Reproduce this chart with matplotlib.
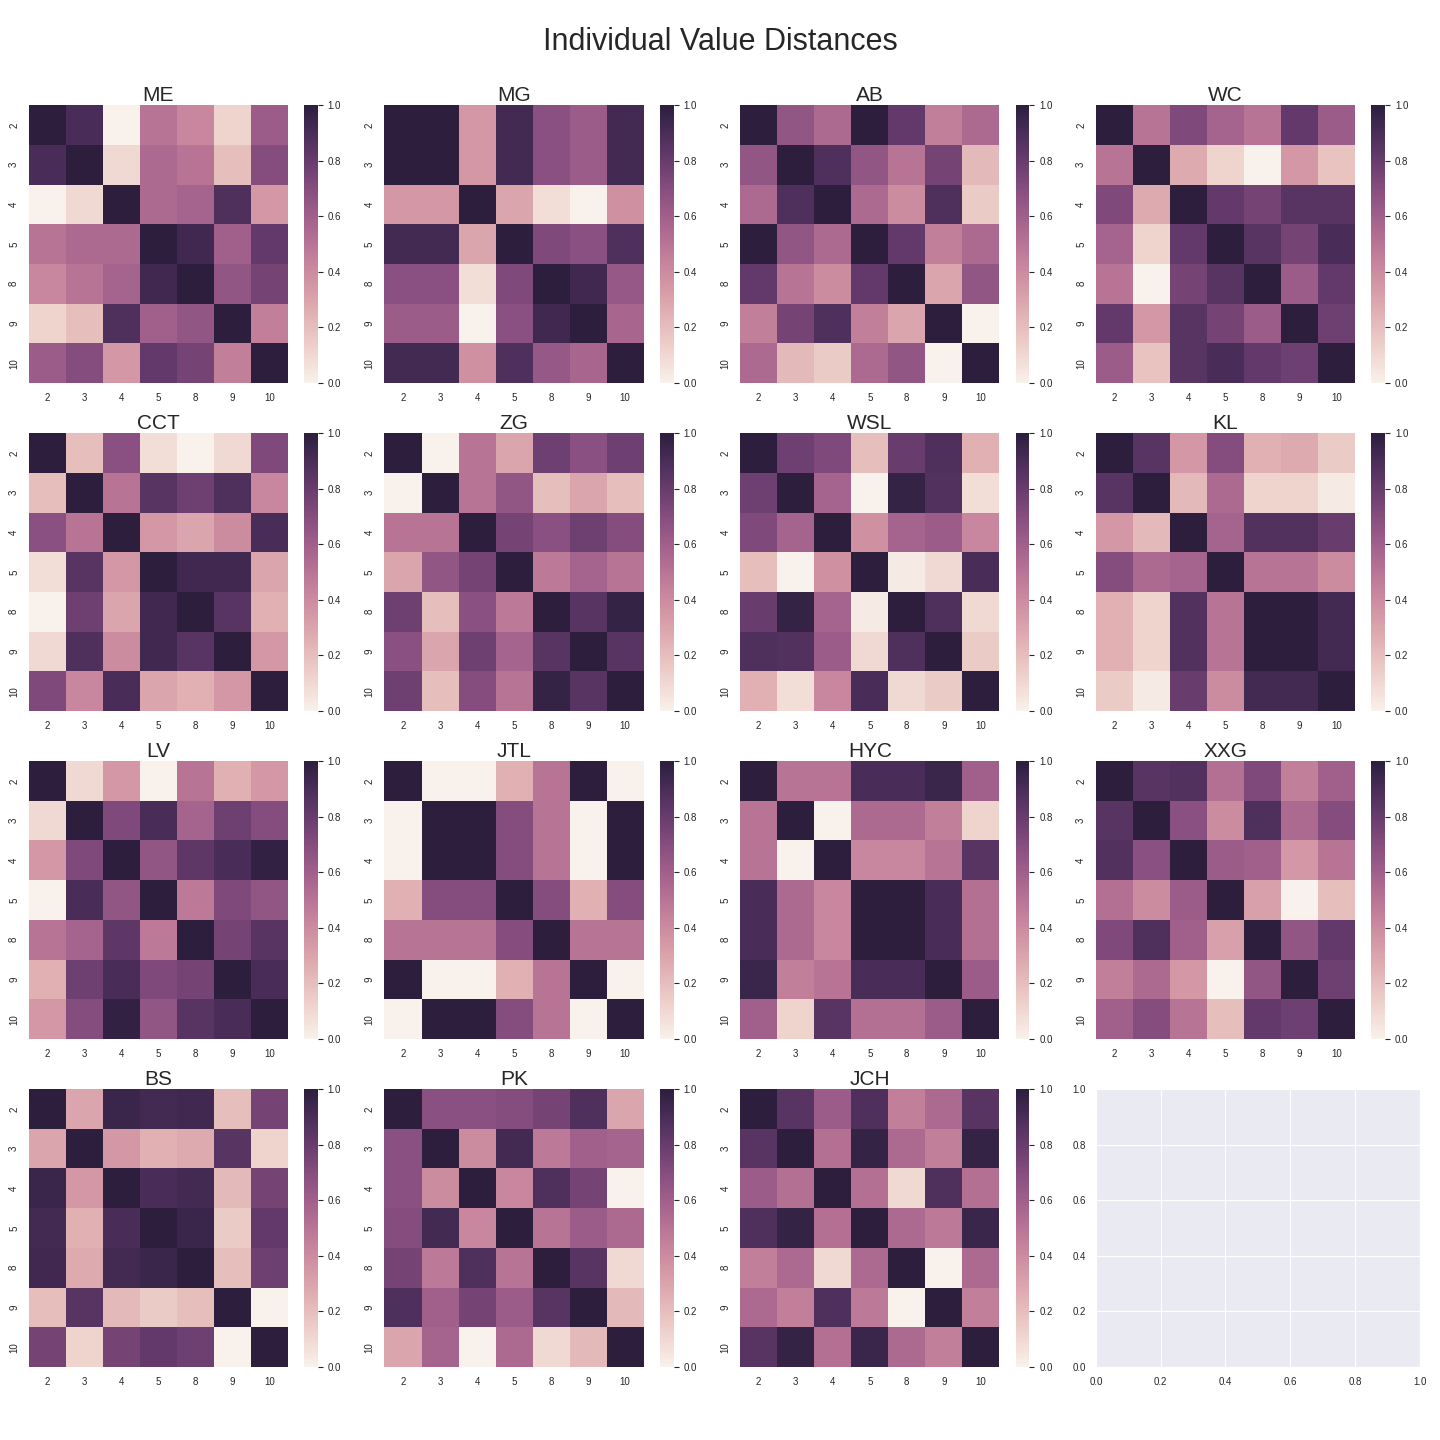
import matplotlib
matplotlib.use("Agg")
import matplotlib.pyplot as plt
import numpy as np
import seaborn as sns

labels = ["2", "3", "4", "5", "8", "9", "10"]
names = ["ME", "MG", "AB", "WC", "CCT", "ZG", "WSL", "KL",
         "LV", "JTL", "HYC", "XXG", "BS", "PK", "JCH"]

ME = [[1.0, 0.9, 0.0, 0.5, 0.42, 0.12, 0.62],
      [0.9, 1.0, 0.1, 0.55, 0.5, 0.2, 0.7],
      [0.0, 0.1, 1.0, 0.55, 0.58, 0.88, 0.35],
      [0.5, 0.55, 0.55, 1.0, 0.93, 0.6, 0.82],
      [0.42, 0.5, 0.58, 0.93, 1.0, 0.65, 0.75],
      [0.12, 0.2, 0.88, 0.6, 0.65, 1.0, 0.45],
      [0.62, 0.7, 0.35, 0.82, 0.75, 0.45, 1.0]]
MG = [[1.0, 1.0, 0.35, 0.92, 0.68, 0.62, 0.92],
      [1.0, 1.0, 0.35, 0.92, 0.68, 0.62, 0.92],
      [0.35, 0.35, 1.0, 0.3, 0.08, 0.0, 0.38],
      [0.92, 0.92, 0.3, 1.0, 0.72, 0.68, 0.88],
      [0.68, 0.68, 0.08, 0.72, 1.0, 0.93, 0.64],
      [0.62, 0.62, 0.0, 0.68, 0.93, 1.0, 0.57],
      [0.92, 0.92, 0.38, 0.88, 0.64, 0.57, 1.0]]
AB = [[1.0, 0.65, 0.55, 1.0, 0.82, 0.45, 0.55],
      [0.65, 1.0, 0.88, 0.65, 0.5, 0.75, 0.22],
      [0.55, 0.88, 1.0, 0.55, 0.4, 0.88, 0.15],
      [1.0, 0.65, 0.55, 1.0, 0.82, 0.45, 0.55],
      [0.82, 0.5, 0.4, 0.82, 1.0, 0.3, 0.65],
      [0.45, 0.75, 0.88, 0.45, 0.3, 1.0, 0.0],
      [0.55, 0.22, 0.15, 0.55, 0.65, 0.0, 1.0]]
WC = [[1.0, 0.5, 0.72, 0.58, 0.5, 0.82, 0.62],
      [0.5, 1.0, 0.28, 0.12, 0.0, 0.35, 0.18],
      [0.72, 0.28, 1.0, 0.82, 0.75, 0.85, 0.85],
      [0.58, 0.12, 0.82, 1.0, 0.85, 0.75, 0.9],
      [0.5, 0.0, 0.75, 0.85, 1.0, 0.62, 0.82],
      [0.82, 0.35, 0.85, 0.75, 0.62, 1.0, 0.78],
      [0.62, 0.18, 0.85, 0.9, 0.82, 0.78, 1.0]]
CCT = [[1.0, 0.2, 0.68, 0.08, 0.0, 0.1, 0.72],
       [0.2, 1.0, 0.5, 0.85, 0.78, 0.88, 0.42],
       [0.68, 0.5, 1.0, 0.35, 0.3, 0.4, 0.9],
       [0.08, 0.85, 0.35, 1.0, 0.93, 0.93, 0.3],
       [0.0, 0.78, 0.3, 0.93, 1.0, 0.85, 0.25],
       [0.1, 0.88, 0.4, 0.93, 0.85, 1.0, 0.35],
       [0.72, 0.42, 0.9, 0.3, 0.25, 0.35, 1.0]]
ZG = [[1.0, 0.0, 0.5, 0.3, 0.78, 0.68, 0.78],
      [0.0, 1.0, 0.5, 0.65, 0.2, 0.3, 0.2],
      [0.5, 0.5, 1.0, 0.75, 0.68, 0.78, 0.7],
      [0.3, 0.65, 0.75, 1.0, 0.48, 0.58, 0.5],
      [0.78, 0.2, 0.68, 0.48, 1.0, 0.85, 0.97],
      [0.68, 0.3, 0.78, 0.58, 0.85, 1.0, 0.85],
      [0.78, 0.2, 0.7, 0.5, 0.97, 0.85, 1.0]]
WSL = [[1.0, 0.78, 0.72, 0.2, 0.8, 0.88, 0.25],
       [0.78, 1.0, 0.58, 0.0, 0.97, 0.87, 0.08],
       [0.72, 0.58, 1.0, 0.38, 0.58, 0.62, 0.42],
       [0.2, 0.0, 0.38, 1.0, 0.03, 0.1, 0.9],
       [0.8, 0.97, 0.58, 0.03, 1.0, 0.88, 0.1],
       [0.88, 0.87, 0.62, 0.1, 0.88, 1.0, 0.15],
       [0.25, 0.08, 0.42, 0.9, 0.1, 0.15, 1.0]]
KL = [[1.0, 0.85, 0.35, 0.7, 0.25, 0.28, 0.15],
      [0.85, 1.0, 0.22, 0.55, 0.12, 0.12, 0.03],
      [0.35, 0.22, 1.0, 0.58, 0.87, 0.87, 0.8],
      [0.7, 0.55, 0.58, 1.0, 0.5, 0.5, 0.4],
      [0.25, 0.12, 0.87, 0.5, 1.0, 1.0, 0.92],
      [0.25, 0.12, 0.87, 0.5, 1.0, 1.0, 0.92],
      [0.15, 0.03, 0.8, 0.4, 0.92, 0.92, 1.0]]
LV = [[1.0, 0.1, 0.35, 0.0, 0.5, 0.25, 0.35],
      [0.1, 1.0, 0.72, 0.9, 0.58, 0.78, 0.7],
      [0.35, 0.72, 1.0, 0.65, 0.83, 0.9, 0.98],
      [0.0, 0.9, 0.65, 1.0, 0.48, 0.72, 0.65],
      [0.5, 0.58, 0.83, 0.48, 1.0, 0.75, 0.85],
      [0.25, 0.78, 0.9, 0.72, 0.75, 1.0, 0.9],
      [0.35, 0.7, 0.98, 0.65, 0.85, 0.9, 1.0]]
JTL = [[1.0, 0.0, 0.0, 0.25, 0.5, 1.0, 0.0],
       [0.0, 1.0, 1.0, 0.7, 0.5, 0.0, 1.0],
       [0.0, 1.0, 1.0, 0.7, 0.5, 0.0, 1.0],
       [0.25, 0.7, 0.7, 1.0, 0.7, 0.25, 0.7],
       [0.5, 0.5, 0.5, 0.7, 1.0, 0.5, 0.5],
       [1.0, 0.0, 0.0, 0.25, 0.5, 1.0, 0.0],
       [0.0, 1.0, 1.0, 0.7, 0.5, 0.0, 1.0]]
HYC = [[1.0, 0.5, 0.5, 0.9, 0.9, 0.95, 0.6],
       [0.5, 1.0, 0.0, 0.55, 0.55, 0.45, 0.12],
       [0.5, 0.0, 1.0, 0.42, 0.42, 0.5, 0.85],
       [0.9, 0.55, 0.42, 1.0, 1.0, 0.9, 0.52],
       [0.9, 0.55, 0.42, 1.0, 1.0, 0.9, 0.52],
       [0.95, 0.45, 0.5, 0.9, 0.9, 1.0, 0.62],
       [0.6, 0.12, 0.85, 0.52, 0.52, 0.62, 1.0]]
XXG = [[1.0, 0.85, 0.87, 0.52, 0.72, 0.45, 0.6],
       [0.85, 1.0, 0.68, 0.4, 0.88, 0.55, 0.7],
       [0.87, 0.68, 1.0, 0.62, 0.6, 0.35, 0.5],
       [0.52, 0.4, 0.62, 1.0, 0.32, 0.0, 0.2],
       [0.72, 0.88, 0.6, 0.32, 1.0, 0.65, 0.82],
       [0.45, 0.55, 0.35, 0.0, 0.65, 1.0, 0.78],
       [0.6, 0.7, 0.5, 0.2, 0.82, 0.78, 1.0]]
BS = [[1.0, 0.3, 0.95, 0.92, 0.93, 0.2, 0.75],
      [0.3, 1.0, 0.35, 0.25, 0.28, 0.85, 0.12],
      [0.95, 0.35, 1.0, 0.9, 0.92, 0.22, 0.75],
      [0.92, 0.25, 0.9, 1.0, 0.95, 0.15, 0.82],
      [0.93, 0.28, 0.92, 0.95, 1.0, 0.2, 0.78],
      [0.2, 0.85, 0.22, 0.15, 0.2, 1.0, 0.0],
      [0.75, 0.12, 0.75, 0.82, 0.78, 0.0, 1.0]]
PK = [[1.0, 0.68, 0.68, 0.7, 0.75, 0.88, 0.3],
      [0.68, 1.0, 0.4, 0.92, 0.48, 0.6, 0.58],
      [0.68, 0.4, 1.0, 0.42, 0.88, 0.75, 0.0],
      [0.7, 0.92, 0.42, 1.0, 0.5, 0.62, 0.55],
      [0.75, 0.48, 0.88, 0.5, 1.0, 0.85, 0.1],
      [0.88, 0.6, 0.75, 0.62, 0.85, 1.0, 0.22],
      [0.3, 0.58, 0.0, 0.55, 0.1, 0.22, 1.0]]
JCH = [[1.0, 0.85, 0.62, 0.88, 0.45, 0.55, 0.85],
       [0.85, 1.0, 0.52, 0.97, 0.55, 0.45, 0.97],
       [0.62, 0.52, 1.0, 0.52, 0.1, 0.88, 0.52],
       [0.88, 0.97, 0.52, 1.0, 0.55, 0.48, 0.95],
       [0.45, 0.55, 0.1, 0.55, 1.0, 0.0, 0.55],
       [0.55, 0.45, 0.88, 0.48, 0.0, 1.0, 0.45],
       [0.85, 0.97, 0.52, 0.95, 0.55, 0.45, 1.0]]

matrices = [ME, MG, AB, WC, CCT, ZG, WSL, KL, LV, JTL, HYC, XXG, BS, PK, JCH]

sns.set_style("darkgrid")
plt.rcParams['font.family'] = ['Liberation Sans', 'DejaVu Sans']

cmap = sns.cubehelix_palette(light=.95, as_cmap=True)

fig, axes = plt.subplots(4, 4, figsize=(14.4, 14.4), dpi=100)
fig.subplots_adjust(left=0.020, right=0.986, top=0.927, bottom=0.0507,
                    wspace=0.098, hspace=0.18)
fig.suptitle("Individual Value Distances", fontsize=22, y=0.981)

for ax, name, mat in zip(axes.flat, names, matrices):
    sns.heatmap(np.array(mat), ax=ax, cmap=cmap, vmin=0, vmax=1,
                xticklabels=labels, yticklabels=labels)
    ax.set_title(name, fontsize=15, pad=3)
    ax.tick_params(labelsize=7)
    plt.setp(ax.get_yticklabels(), rotation=90, va="center")
    ax.collections[0].colorbar.ax.tick_params(labelsize=7)

# last panel stays empty
axes.flat[-1].tick_params(labelsize=7)

fig.savefig("out.png", dpi=100)
